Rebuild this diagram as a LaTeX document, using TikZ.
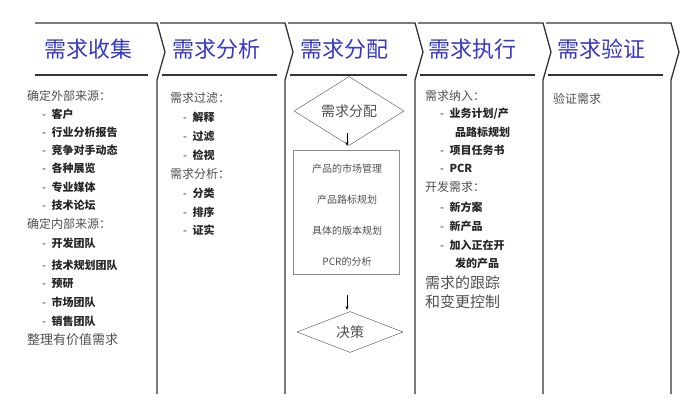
\documentclass[tikz,border=0pt]{standalone}
\usepackage{fontspec}
\setmainfont{Noto Sans CJK SC}
\usetikzlibrary{shapes.geometric,arrows.meta}
\definecolor{titleblue}{RGB}{55,55,200}
\definecolor{txtgray}{RGB}{80,80,80}
\tikzset{
  frame/.style={line width=1.3pt, black!80},
  title/.style={anchor=center, text=titleblue, font=\fontsize{22}{22}\selectfont},
  head/.style={anchor=west, text=txtgray, font=\fontsize{12}{12}\selectfont, inner sep=0pt},
  item/.style={anchor=west, text=black!85, font=\bfseries\fontsize{11}{11}\selectfont, inner sep=0pt},
  big/.style={anchor=west, text=txtgray, font=\fontsize{15}{15}\selectfont, inner sep=0pt},
  box/.style={anchor=center, text=txtgray, font=\fontsize{10}{10}\selectfont},
  dia/.style={diamond, draw=black!70, minimum width=110pt, minimum height=36pt, inner sep=0pt, text=txtgray, font=\fontsize{14}{14}\selectfont},
  flow/.style={-{Stealth[length=4pt]}, black, line width=0.8pt}
}
\begin{document}
\begin{tikzpicture}[x=1pt,y=-1pt]
  \useasboundingbox (0,0) rectangle (692,411);
  % frames of the five stages
  \draw[frame] (35,23) -- (157,23) -- (165,52) -- (157,80) -- (157,394);
  \draw[frame] (35,75) -- (148,75);
  \foreach \l/\r in {157/285, 285/415, 415/543, 543/671}{
    \draw[frame] (\l+3,23) -- (\r,23) -- (\r+8,52) -- (\r,80) -- (\r,394);
    \draw[frame] (\l+5,75) -- (\r-8,75);
  }
  % titles
  \node[title] (t1) at (88,49) {需求收集};
  \node[title] (t2) at (216,49) {需求分析};
  \node[title] (t3) at (344,49) {需求分配};
  \node[title] (t4) at (472,49) {需求执行};
  \node[title] (t5) at (601,49) {需求验证};

  % collection
  \node[head] (ext) at (27,96) {确定外部来源：};
  \foreach \y/\t in {114/客户, 132/行业分析报告, 150/竞争对手动态, 168/各种展览, 187/专业媒体, 205/技术论坛}
    \node[item] at (42,\y) {\textmd{-}\enspace\t};
  \node[head] (int) at (27,224) {确定内部来源：};
  \foreach \y/\t in {243/开发团队, 265/技术规划团队, 284/预研, 302/市场团队, 321/销售团队}
    \node[item] at (42,\y) {\textmd{-}\enspace\t};
  \node[big, font=\fontsize{13}{13}\selectfont] (val) at (27,340) {整理有价值需求};

  % analysis
  \node[head] (flt) at (170,98) {需求过滤：};
  \foreach \y/\t in {117/解释, 136/过滤, 155/检视}
    \node[item] at (183,\y) {\textmd{-}\enspace\t};
  \node[head] (ana) at (170,174) {需求分析：};
  \foreach \y/\t in {193/分类, 212/排序, 230/证实}
    \node[item] at (183,\y) {\textmd{-}\enspace\t};

  % allocation
  \node[dia] (d1) at (349,111) {需求分配};
  \draw[draw=black!45, line width=0.8pt] (293,150) rectangle (399,274);
  \coordinate (at) at (347,133);
  \coordinate (bx) at (347,146);
  \node[box] (b1) at (347,169) {产品的市场管理};
  \node[box] (b2) at (347,200) {产品路标规划};
  \node[box] (b3) at (347,231) {具体的版本规划};
  \node[box] (b4) at (347,262) {PCR的分析};
  \coordinate (bb) at (347,295);
  \coordinate (bt) at (347,310);
  \node[dia, minimum width=106pt, minimum height=40pt] (d2) at (350,332) {决策};
  \draw[flow] (at) -- (bx);
  \draw[flow] (bb) -- (bt);

  % execution
  \node[head] (inc) at (425,96) {需求纳入：};
  \node[item] at (440,114) {\textmd{-}\enspace 业务计划/产};
  \node[item] at (455,132) {品路标规划};
  \node[item] at (440,150) {\textmd{-}\enspace 项目任务书};
  \node[item] at (440,168) {\textmd{-}\enspace PCR};
  \node[head] (dev) at (425,187) {开发需求：};
  \node[item] at (440,207) {\textmd{-}\enspace 新方案};
  \node[item] at (440,226) {\textmd{-}\enspace 新产品};
  \node[item] at (440,245) {\textmd{-}\enspace 加入正在开};
  \node[item] at (455,263) {发的产品};
  \node[big] (trk) at (425,283) {需求的跟踪};
  \node[big] (chg) at (425,302) {和变更控制};

  % verification
  \node[head] (ver) at (553,99) {验证需求};
\end{tikzpicture}
\end{document}
